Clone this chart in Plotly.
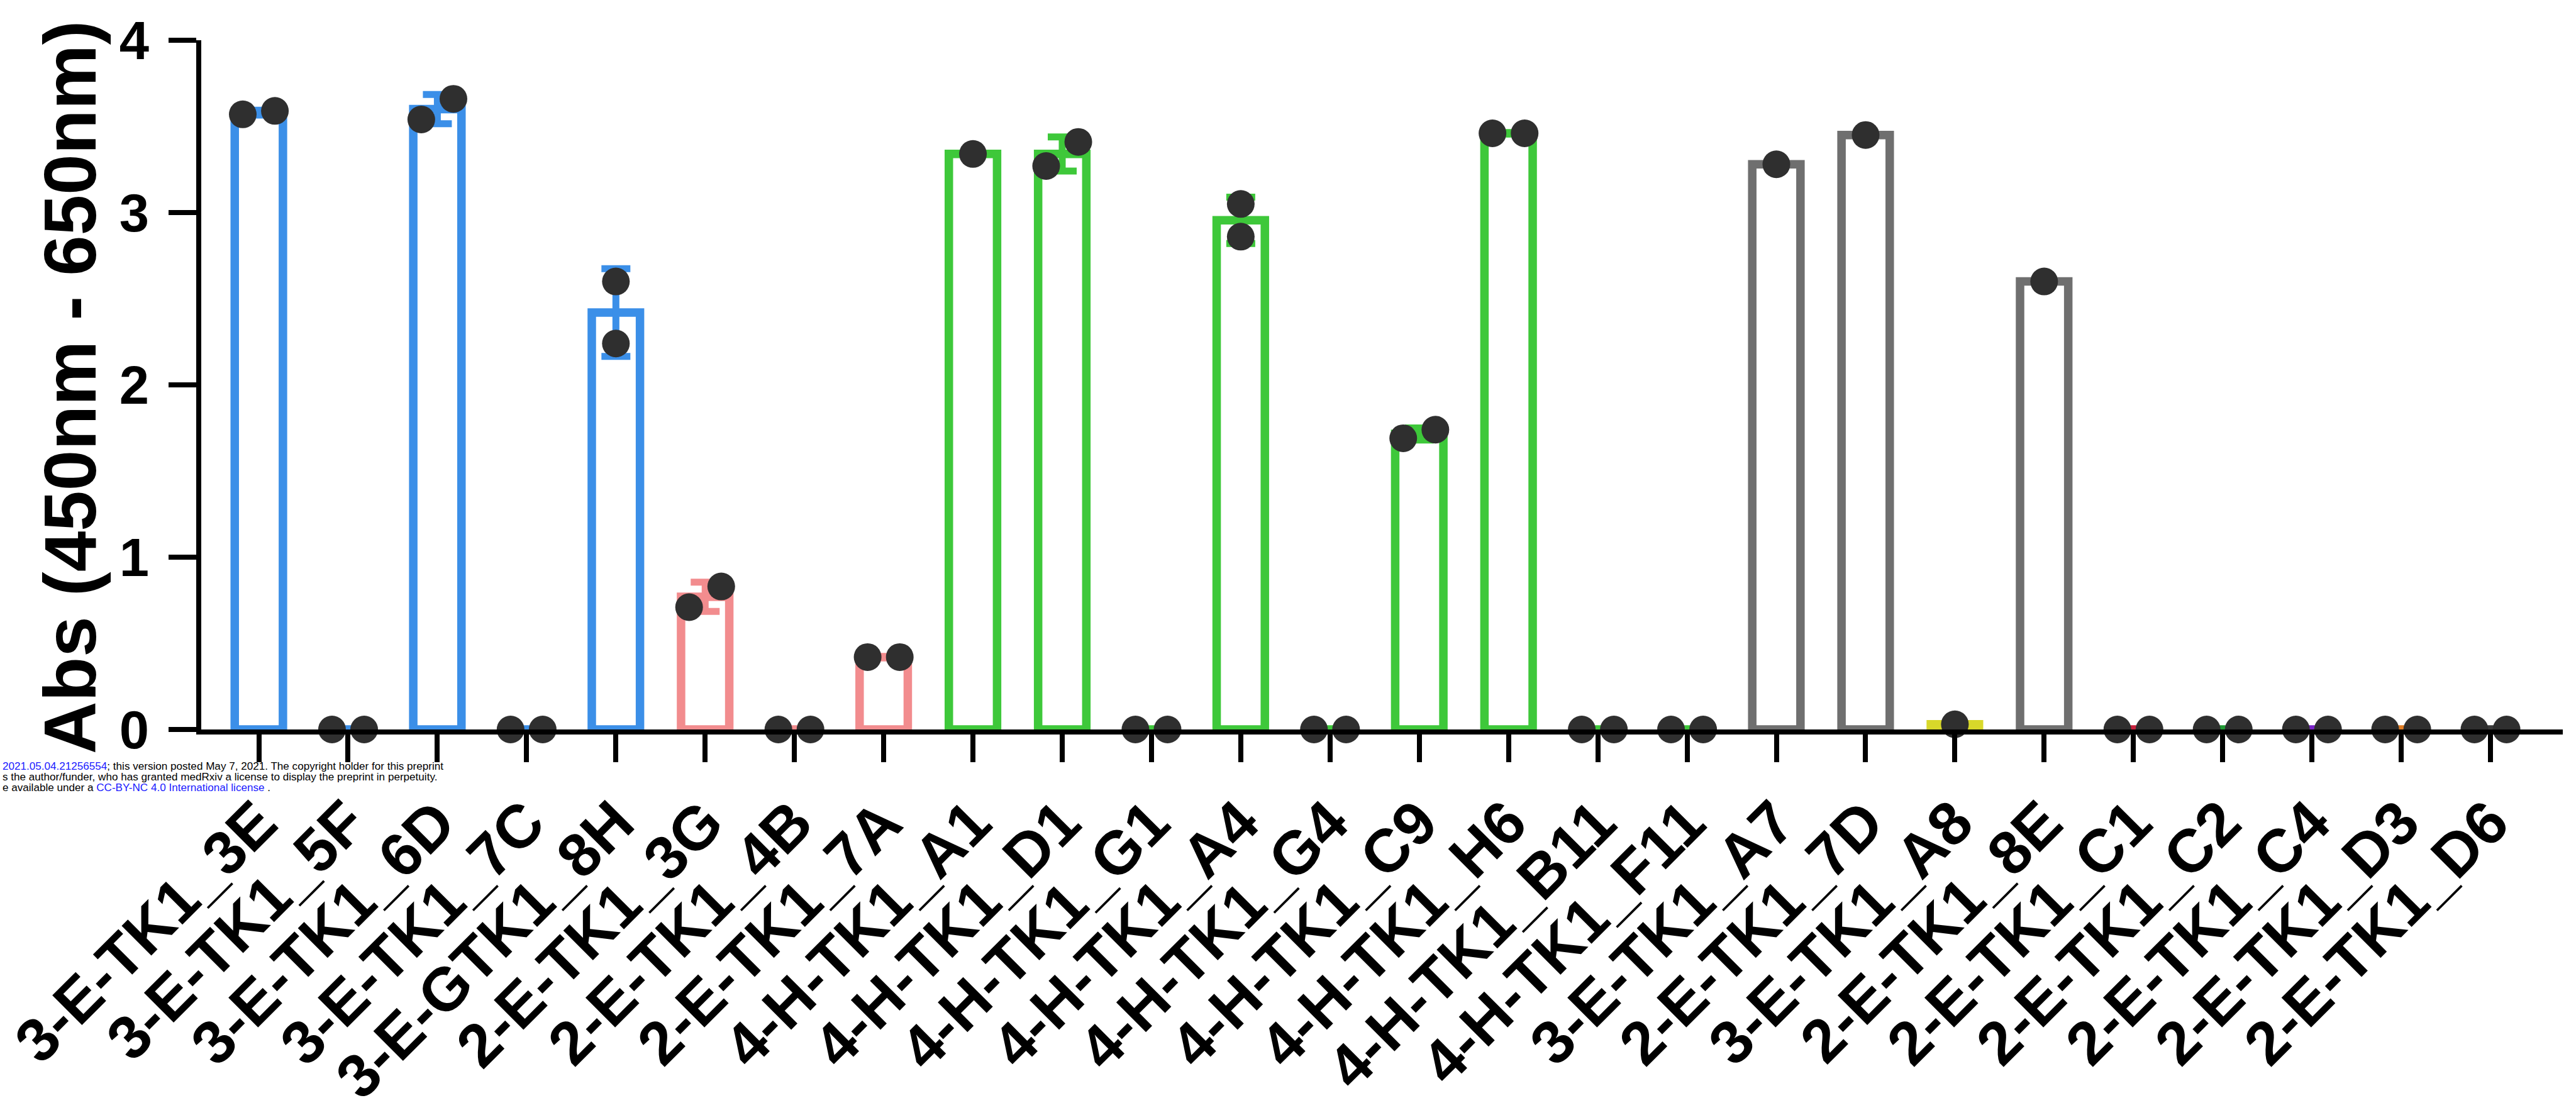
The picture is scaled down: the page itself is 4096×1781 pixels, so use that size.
import statistics
import plotly.graph_objects as go

# ---------------- data ----------------
labels = ["3-E-TK1_3E", "3-E-TK1_5F", "3-E-TK1_6D", "3-E-TK1_7C", "3-E-GTK1_8H",
          "2-E-TK1_3G", "2-E-TK1_4B", "2-E-TK1_7A",
          "4-H-TK1_A1", "4-H-TK1_D1", "4-H-TK1_G1", "4-H-TK1_A4", "4-H-TK1_G4",
          "4-H-TK1_C9", "4-H-TK1_H6", "4-H-TK1_B11", "4-H-TK1_F11",
          "3-E-TK1_A7", "2-E-TK1_7D", "3-E-TK1_A8", "2-E-TK1_8E",
          "2-E-TK1_C1", "2-E-TK1_C2", "2-E-TK1_C4", "2-E-TK1_D3", "2-E-TK1_D6"]

rep1 = [3.57, 0.0, 3.54, 0.0, 2.60,
        0.71, 0.0, 0.42,
        3.34, 3.27, 0.0, 3.05, 0.0, 1.69, 3.46, 0.0, 0.0,
        3.28, 3.45, 0.03, 2.60,
        0.0, 0.0, 0.0, 0.0, 0.0]
rep2 = [3.59, 0.0, 3.66, 0.0, 2.24,
        0.83, 0.0, 0.42,
        None, 3.41, 0.0, 2.86, 0.0, 1.74, 3.46, 0.0, 0.0,
        None, None, None, None,
        0.0, 0.0, 0.0, 0.0, 0.0]

BLUE, PINK, GREEN, GRAY = "#3b8fe8", "#f28c8e", "#3ec83a", "#6f6f6f"
bar_colors = [BLUE] * 5 + [PINK] * 3 + [GREEN] * 9 + \
             [GRAY, GRAY, "#d8d82a", GRAY, "#c8203c", "#1f9a33", "#7a22c8", "#e07c22", "#3a3a3a"]

y_ticks = [0, 1, 2, 3, 4]
y_title = "Abs (450nm - 650nm)"

# ---------------- layout constants (output px) ----------------
W, H = 4096, 1781
L, R, T, B = 319.6, 21, 64.2, 621
PW, PH = W - L - R, H - T - B
FONT = "Liberation Sans, Arial, sans-serif"
DOT = "#2f2f2f"


def px_x(px):
    return (px - L) / PW


def px_y(py):
    return (H - B - py) / PH


fig = go.Figure()

dot_x, dot_y = [], []
for i, lab in enumerate(labels):
    vals = [v for v in (rep1[i], rep2[i]) if v is not None]
    mean = sum(vals) / len(vals)
    sd = statistics.stdev(vals) if len(vals) > 1 else 0.0
    c = bar_colors[i]
    fig.add_trace(go.Bar(
        x=[i], y=[mean], width=0.54,
        marker=dict(color="rgba(255,255,255,0)", line=dict(color=c, width=13.5)),
        error_y=dict(type="data", array=[sd], visible=sd > 0, color=c,
                     thickness=11, width=23),
        cliponaxis=False, showlegend=False, hoverinfo="skip"))
    if len(vals) == 2 and abs(vals[0] - vals[1]) < 0.17:
        offs = [-0.18, 0.18]
    else:
        offs = [0.0] * len(vals)
    for v, o in zip(vals, offs):
        dot_x.append(i + o)
        dot_y.append(v)

fig.add_trace(go.Scatter(
    x=dot_x, y=dot_y, mode="markers",
    marker=dict(size=44, color=DOT, line=dict(width=0)),
    cliponaxis=False, showlegend=False, hoverinfo="skip"))

fig.update_layout(
    width=W, height=H,
    margin=dict(l=L, r=R, t=T, b=B, pad=0, autoexpand=False),
    paper_bgcolor="white", plot_bgcolor="white",
    barmode="overlay",
    font=dict(family=FONT, color="black"),
    xaxis=dict(
        range=[-0.645, 25.81], automargin=False,
        tickmode="array", tickvals=list(range(len(labels))), ticktext=labels,
        tickangle=-45,
        tickfont=dict(family=FONT, size=97, color="black", weight="bold"),
        ticks="outside", ticklen=44, tickwidth=8, tickcolor="black",
        showline=True, linecolor="black", linewidth=8,
        showgrid=False, zeroline=False,
    ),
    yaxis=dict(
        range=[0, 4], automargin=False,
        tickmode="array", tickvals=y_ticks, ticktext=[str(t) for t in y_ticks],
        tickfont=dict(family=FONT, size=85, color="black", weight="bold"),
        ticks="outside", ticklen=44, tickwidth=8, tickcolor="black",
        ticklabelstandoff=14,
        showline=True, linecolor="black", linewidth=8,
        showgrid=False, zeroline=False,
    ),
)

# y-axis title
fig.add_annotation(
    xref="paper", yref="paper", x=px_x(111), y=px_y(616),
    text=y_title, textangle=-90, showarrow=False,
    xanchor="center", yanchor="middle",
    font=dict(family=FONT, size=116, color="black", weight="bold"))

# medRxiv watermark lines (at the left edge, as in the source)
wm_lines = [
    ("<span style='color:#1a1aff'>2021.05.04.21256554</span>; this version posted May 7, 2021. "
     "The copyright holder for this preprint", 1218),
    ("s the author/funder, who has granted medRxiv a license to display the preprint in perpetuity.",
     1235),
    ("e available under a <span style='color:#1a1aff'>CC-BY-NC 4.0 International license</span> .",
     1252),
]
for txt, yc in wm_lines:
    fig.add_annotation(
        xref="paper", yref="paper", x=px_x(2), y=px_y(yc),
        text=txt, showarrow=False, xanchor="left", yanchor="middle",
        font=dict(family=FONT, size=17.1, color="black"))

fig.write_html("out.html",
               config={"displayModeBar": False},
               post_script="document.body.style.margin='0';document.body.style.overflow='hidden';")
